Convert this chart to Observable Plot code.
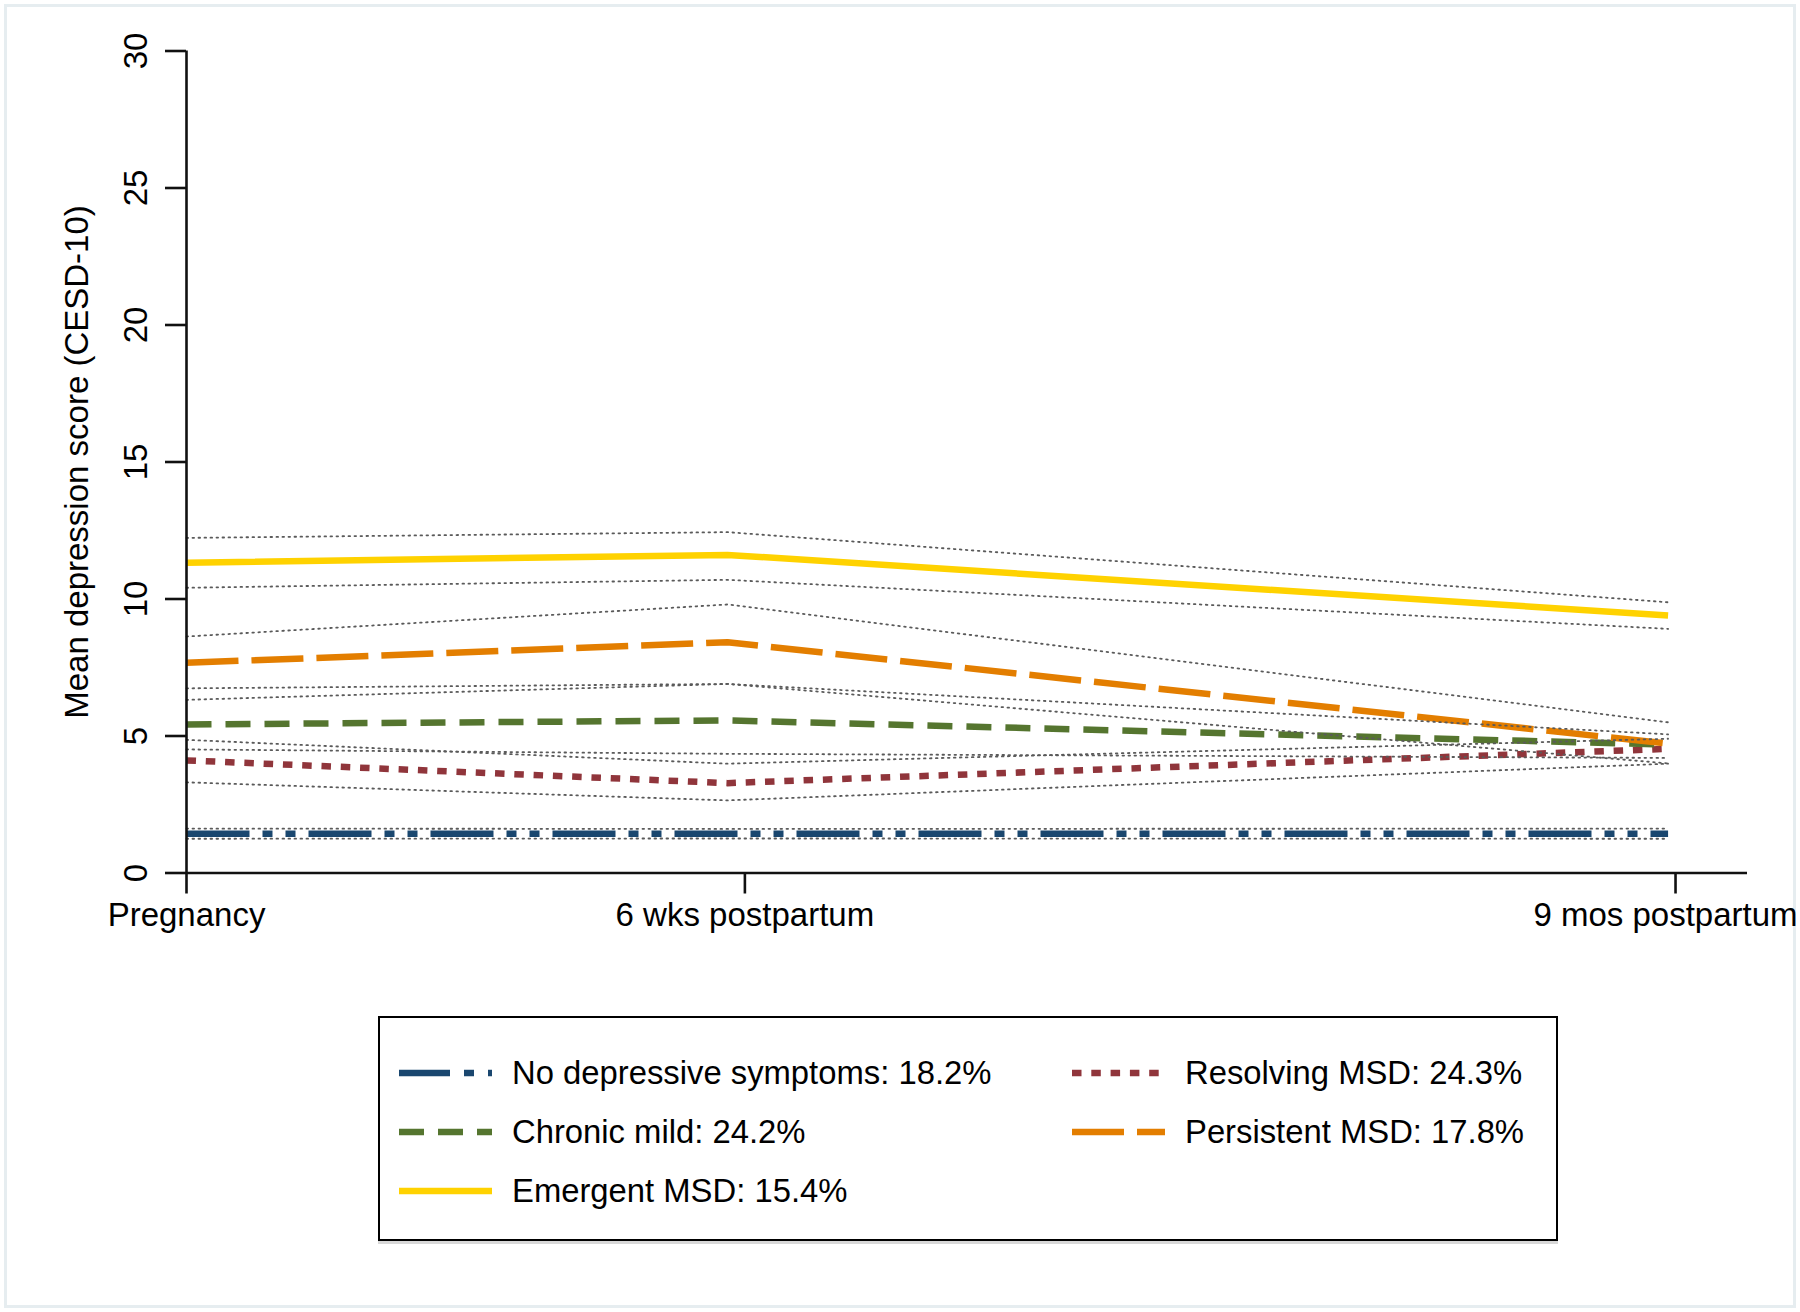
<!DOCTYPE html>
<html>
<head>
<meta charset="utf-8">
<script src="https://cdn.jsdelivr.net/npm/d3@7"></script>
<script src="https://cdn.jsdelivr.net/npm/@observablehq/plot@0.6"></script>
<style>
  html, body { margin: 0; padding: 0; background: #fff; }
  #wrap { position: relative; width: 1800px; height: 1312px; overflow: hidden; background: #fff;
          font-family: "Liberation Sans", Arial, sans-serif; }
  #frame { position: absolute; left: 4px; top: 4px; width: 1786px; height: 1298px;
           border: 3px solid #e6edf0; pointer-events: none; }
  #chart { position: absolute; left: 0; top: 0; }
  #legend { position: absolute; left: 378px; top: 1016px; width: 1176px; height: 221px;
            border: 2.5px solid #000; box-shadow: 0 3px 0 #d8d8d8; background: #fff; }
  .item { position: absolute; display: flex; align-items: center; height: 40px; }
  .item span { font-size: 32.8px; color: #000; white-space: nowrap; margin-left: 20px; }
</style>
</head>
<body>
<div id="wrap">
  <div id="frame"></div>
  <div id="chart"></div>
  <div id="legend"></div>
</div>
<script>
// ---------- data ----------
const timeLabels = ["Pregnancy", "6 wks postpartum", "9 mos postpartum"];
const tickTimes  = [-3, 1.5, 9];        // months relative to birth (axis ticks)
const obsTimes   = [-3, 1.36, 8.94];    // observed timing of the three waves

const classes = [
  "No depressive symptoms: 18.2%",
  "Resolving MSD: 24.3%",
  "Chronic mild: 24.2%",
  "Persistent MSD: 17.8%",
  "Emergent MSD: 15.4%"
];

// mean CESD-10 scores per class at the three waves
const meanNone       = [1.43, 1.43, 1.43];
const meanResolving  = [4.11, 3.28, 4.53];
const meanChronic    = [5.42, 5.57, 4.69];
const meanPersistent = [7.67, 8.42, 4.72];
const meanEmergent   = [11.32, 11.61, 9.40];

// upper / lower confidence bounds
const upperNone       = [1.62, 1.61, 1.62];
const lowerNone       = [1.25, 1.26, 1.25];
const upperResolving  = [4.86, 3.99, 4.90];
const lowerResolving  = [3.31, 2.65, 3.99];
const upperChronic    = [6.32, 6.90, 5.06];
const lowerChronic    = [4.51, 4.35, 4.20];
const upperPersistent = [8.63, 9.80, 5.50];
const lowerPersistent = [6.74, 6.90, 4.00];
const upperEmergent   = [12.23, 12.44, 9.88];
const lowerEmergent   = [10.41, 10.70, 8.91];

const yTicks = [0, 5, 10, 15, 20, 25, 30];

// ---------- styling ----------
const colors  = ["#1a476f", "#90353b", "#55752f", "#e37e00", "#ffd200"];
const dashes  = ["63 13 10 13 10 13", "9.5 9.8", "25 14", "52 13", null];

const means  = [meanNone, meanResolving, meanChronic, meanPersistent, meanEmergent];
const uppers = [upperNone, upperResolving, upperChronic, upperPersistent, upperEmergent];
const lowers = [lowerNone, lowerResolving, lowerChronic, lowerPersistent, lowerEmergent];

const rows = [];
classes.forEach((c, i) => obsTimes.forEach((t, j) =>
  rows.push({cls: c, t, mean: means[i][j], hi: uppers[i][j], lo: lowers[i][j]})));

const xMin = -3, xMax = 9.58;
const font = "Liberation Sans, Arial, sans-serif";

const marks = [];
classes.forEach((c, i) => {
  const opts = {x: "t", y: "mean", stroke: colors[i], strokeWidth: 6.5, strokeLinecap: "butt", strokeLinejoin: "round"};
  if (dashes[i]) opts.strokeDasharray = dashes[i];
  marks.push(Plot.line(rows.filter(r => r.cls === c), opts));
});
classes.forEach((c, i) => {
  const d = rows.filter(r => r.cls === c);
  const ci = {stroke: "#5a5a5a", strokeWidth: 1.8, strokeDasharray: "1.6 4.4"};
  marks.push(Plot.line(d, {x: "t", y: "hi", ...ci}));
  marks.push(Plot.line(d, {x: "t", y: "lo", ...ci}));
});

const lastTick = tickTimes[tickTimes.length - 1];

const chart = Plot.plot({
  width: 1800,
  height: 1000,
  marginLeft: 186,
  marginRight: 53,
  marginTop: 50.5,
  marginBottom: 127.5,
  style: {fontFamily: font, background: "transparent", color: "#000"},
  x: {domain: [xMin, xMax]},
  y: {domain: [0, 30]},
  marks: [
    ...marks,
    Plot.ruleY([0], {x1: xMin, x2: xMax, stroke: "#111", strokeWidth: 2.6}),
    Plot.ruleX([xMin], {y1: 0, y2: 30, stroke: "#111", strokeWidth: 2.6}),
    Plot.axisY({
      ticks: yTicks, tickSize: 21, tickPadding: 19, tickRotate: -90,
      strokeWidth: 2.6, stroke: "#111", fontSize: 33, fill: "#000",
      label: "Mean depression score (CESD-10)", labelAnchor: "center",
      labelOffset: 122, labelArrow: "none"
    }),
    Plot.axisX({
      ticks: tickTimes, tickSize: 21, tickPadding: 9,
      tickFormat: d => d === lastTick ? "" : timeLabels[tickTimes.indexOf(d)],
      strokeWidth: 2.6, stroke: "#111", fontSize: 33, fill: "#000",
      label: null
    }),
    // last tick label nudged left so it stays inside the picture
    Plot.axisX({
      ticks: [lastTick], tickSize: 0, tickPadding: 30, dx: -10,
      tickFormat: d => timeLabels[tickTimes.indexOf(d)],
      fontSize: 33, fill: "#000", label: null
    })
  ]
});
document.getElementById("chart").appendChild(chart);

// ---------- legend ----------
const legend = document.getElementById("legend");
const colX = [19, 692];
const rowY = [55, 114, 173];
classes.forEach((c, i) => {
  const col = i % 2, row = Math.floor(i / 2);
  const item = document.createElement("div");
  item.className = "item";
  item.style.left = colX[col] + "px";
  item.style.top = (rowY[row] - 20) + "px";
  const ns = "http://www.w3.org/2000/svg";
  const svg = document.createElementNS(ns, "svg");
  svg.setAttribute("width", 93);
  svg.setAttribute("height", 14);
  const ln = document.createElementNS(ns, "line");
  ln.setAttribute("x1", 0); ln.setAttribute("x2", 93);
  ln.setAttribute("y1", 7); ln.setAttribute("y2", 7);
  ln.setAttribute("stroke", colors[i]);
  ln.setAttribute("stroke-width", 6.5);
  if (dashes[i]) ln.setAttribute("stroke-dasharray", i === 0 ? "51 14 10 14 10 14" : dashes[i]);
  svg.appendChild(ln);
  const span = document.createElement("span");
  span.textContent = c;
  item.appendChild(svg);
  item.appendChild(span);
  legend.appendChild(item);
});
</script>
</body>
</html>
